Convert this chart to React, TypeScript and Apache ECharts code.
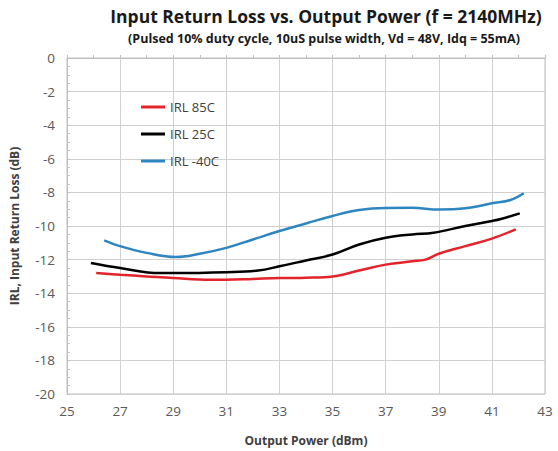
import React, { useEffect, useRef } from "react";
import * as echarts from "echarts";

const titleText = "Input Return Loss vs. Output Power (f = 2140MHz)";
const subtitleText = "(Pulsed 10% duty cycle, 10uS pulse width, Vd = 48V, Idq = 55mA)";
const xAxisName = "Output Power (dBm)";
const yAxisName = "IRL, Input Return Loss (dB)";

const seriesNames = ["IRL 85C", "IRL 25C", "IRL -40C"];

const red85X = [26.1, 27, 28, 29, 30.4, 31, 32, 33, 34, 35, 36, 37, 38, 38.5, 39, 40, 41, 41.9];
const red85Y = [-12.8, -12.9, -13.0, -13.1, -13.2, -13.2, -13.15, -13.1, -13.08, -13.0, -12.65, -12.3, -12.1, -12.0, -11.65, -11.2, -10.75, -10.2];

const black25X = [25.9, 27, 28.5, 29, 31, 32.2, 33, 34, 35, 36, 37, 38, 38.8, 40, 41, 41.3, 42.05];
const black25Y = [-12.2, -12.5, -12.8, -12.8, -12.75, -12.65, -12.4, -12.05, -11.7, -11.1, -10.7, -10.5, -10.4, -10.0, -9.7, -9.6, -9.25];

const blue40X = [26.4, 27, 28, 29.1, 30, 31, 32, 33, 34, 35, 36, 37, 38, 39, 40, 41, 41.7, 42.2];
const blue40Y = [-10.85, -11.2, -11.6, -11.85, -11.65, -11.3, -10.8, -10.3, -9.85, -9.4, -9.05, -8.93, -8.92, -9.02, -8.95, -8.65, -8.45, -8.05];

const colors = ["#e3242b", "#000000", "#2e86c1"];

const FONT = "'Open Sans', 'Noto Sans', sans-serif";

function zip(xs: number[], ys: number[]) {
  return xs.map((x, i) => [x, ys[i]]);
}

export default function App() {
  const ref = useRef<HTMLDivElement>(null);
  useEffect(() => {
    if (!ref.current) return;
    const chart = echarts.init(ref.current, undefined, { renderer: "svg" });
    const datasets = [zip(red85X, red85Y), zip(black25X, black25Y), zip(blue40X, blue40Y)];
    chart.setOption({
      animation: false,
      backgroundColor: "#ffffff",
      textStyle: { fontFamily: FONT },
      graphic: [
        {
          type: "text",
          x: 326,
          y: 16,
          style: {
            text: titleText,
            align: "center",
            verticalAlign: "middle",
            font: `bold 17.5px ${FONT}`,
            fill: "#1a1a1a",
          },
        },
        {
          type: "text",
          x: 324,
          y: 38,
          style: {
            text: subtitleText,
            align: "center",
            verticalAlign: "middle",
            font: `bold 12.5px ${FONT}`,
            fill: "#1a1a1a",
          },
        },
      ],
      legend: {
        orient: "vertical",
        left: 136,
        top: 95,
        itemWidth: 24,
        itemHeight: 3,
        itemGap: 13,
        icon: "rect",
        textStyle: { fontFamily: FONT, fontSize: 13, color: "#404040", lineHeight: 14 },
        data: seriesNames,
      },
      grid: {
        left: 67,
        right: 13,
        top: 58,
        bottom: 54,
        show: true,
        borderColor: "#c0c0c0",
        borderWidth: 1,
      },
      xAxis: {
        type: "value",
        min: 25,
        max: 43,
        interval: 2,
        name: xAxisName,
        nameLocation: "middle",
        nameGap: 40,
        nameTextStyle: { fontFamily: FONT, fontWeight: "bold", fontSize: 12, color: "#404040" },
        axisLine: { show: true, lineStyle: { color: "#c0c0c0" } },
        axisTick: { show: true, inside: true, length: 3, lineStyle: { color: "#c0c0c0" } },
        minorTick: { show: true, splitNumber: 2, length: 3, lineStyle: { color: "#c0c0c0" } },
        axisLabel: { fontFamily: FONT, fontSize: 13.5, color: "#595959", margin: 10 },
        splitLine: { show: true, lineStyle: { color: "#d0d0d0" } },
      },
      yAxis: {
        type: "value",
        min: -20,
        max: 0,
        interval: 2,
        name: yAxisName,
        nameLocation: "middle",
        nameRotate: 90,
        nameGap: 47,
        nameTextStyle: { fontFamily: FONT, fontWeight: "bold", fontSize: 12, color: "#404040" },
        axisLine: { show: true, lineStyle: { color: "#c0c0c0" } },
        axisTick: { show: true, inside: true, length: 3, lineStyle: { color: "#c0c0c0" } },
        minorTick: { show: true, splitNumber: 4, length: 3, lineStyle: { color: "#c0c0c0" } },
        axisLabel: { fontFamily: FONT, fontSize: 13.5, color: "#595959", margin: 12 },
        splitLine: { show: true, lineStyle: { color: "#d0d0d0" } },
      },
      series: seriesNames.map((name, i) => ({
        name,
        type: "line",
        data: datasets[i],
        smooth: 0.4,
        showSymbol: false,
        symbol: "none",
        color: colors[i],
        lineStyle: { width: 2.5, color: colors[i] },
      })),
    });
    return () => chart.dispose();
  }, []);
  return (
    <div
      ref={ref}
      style={{ position: "fixed", left: 0, top: 0, width: 558, height: 451 }}
    />
  );
}
